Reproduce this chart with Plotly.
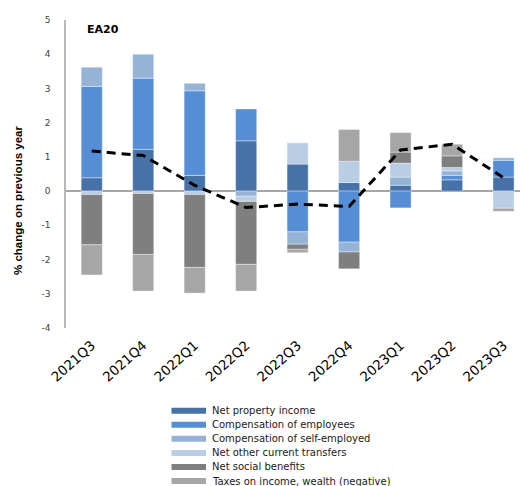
import plotly.graph_objects as go

quarters = ["2021Q3", "2021Q4", "2022Q1", "2022Q2", "2022Q3", "2022Q4", "2023Q1", "2023Q2", "2023Q3"]
net_property_income = [0.39, 1.22, 0.46, 1.47, 0.79, 0.25, 0.17, 0.33, 0.41]
compensation_employees = [2.67, 2.08, 2.47, 0.93, -1.19, -1.49, -0.49, 0.13, 0.49]
compensation_self_employed = [0.56, 0.70, 0.22, -0.15, -0.36, -0.29, 0.24, 0.13, 0.08]
net_other_transfers = [-0.10, -0.07, -0.10, -0.15, 0.62, 0.62, 0.41, 0.10, -0.50]
net_social_benefits = [-1.47, -1.78, -2.13, -1.84, -0.15, -0.49, 0.32, 0.34, 0.0]
taxes_income_wealth = [-0.88, -1.07, -0.75, -0.78, -0.10, 0.93, 0.57, 0.34, -0.09]
gross_disposable_income = [1.17, 1.04, 0.17, -0.48, -0.38, -0.45, 1.20, 1.37, 0.39]
y_tick_values = [-4, -3, -2, -1, 0, 1, 2, 3, 4, 5]
y_tick_labels = ["-4", "-3", "-2", "-1", "0", "1", "2", "3", "4", "5"]

series = [
    ("Net property income", net_property_income, "#4672A8"),
    ("Compensation of employees", compensation_employees, "#558ED5"),
    ("Compensation of self-employed", compensation_self_employed, "#95B3D7"),
    ("Net other current transfers", net_other_transfers, "#B9CDE5"),
    ("Net social benefits", net_social_benefits, "#7F7F7F"),
    ("Taxes on income, wealth (negative)", taxes_income_wealth, "#A6A6A6"),
]

fig = go.Figure()
for name, vals, color in series:
    fig.add_trace(go.Bar(
        x=quarters, y=vals, name=name, width=0.41,
        marker=dict(color=color, line=dict(color="rgba(255,255,255,0.6)", width=0.6)),
        showlegend=False,
    ))

fig.add_trace(go.Scatter(
    x=quarters, y=gross_disposable_income, mode="lines", name="Gross disposable income",
    line=dict(color="black", width=3, dash="9px,6px"), showlegend=False,
))

W, H = 526, 486
L, R, T, B = 66, 6, 20, 158
pw, ph = W - L - R, H - T - B

def px_x(px):
    return (px - L) / pw

def px_y(py):
    return (H - B - py) / ph

shapes = []
annotations = []
row0, step = 410.7, 14.06
for i, (name, vals, color) in enumerate(series):
    yc = row0 + i * step
    shapes.append(dict(type="rect", xref="paper", yref="paper",
                       x0=px_x(171.5), x1=px_x(206), y0=px_y(yc + 3), y1=px_y(yc - 3),
                       fillcolor=color, line=dict(width=0)))
    annotations.append(dict(xref="paper", yref="paper", x=px_x(210), y=px_y(yc),
                            text=name, showarrow=False, xanchor="left", yanchor="middle",
                            font=dict(family="DejaVu Sans", size=10, color="#1a1a1a")))

annotations.append(dict(xref="paper", yref="paper", x=px_x(85), y=px_y(29), text="<b>EA20</b>",
                        showarrow=False, xanchor="left", yanchor="middle",
                        font=dict(family="DejaVu Sans", size=11, color="black")))
annotations.append(dict(xref="paper", yref="paper", x=px_x(18), y=px_y(201),
                        text="<b>% change on previous year</b>", textangle=-90,
                        showarrow=False, xanchor="center", yanchor="middle",
                        font=dict(family="Liberation Sans", size=11.5, color="black")))

fig.update_layout(
    width=W, height=H,
    margin=dict(l=L, r=R, t=T, b=B, autoexpand=False),
    barmode="relative",
    bargap=0.59,
    plot_bgcolor="white", paper_bgcolor="white",
    shapes=shapes, annotations=annotations,
    xaxis=dict(range=[-0.5, 8.32], showline=False, ticks="", showgrid=False, zeroline=False,
               tickangle=-42, tickfont=dict(family="DejaVu Sans", size=13.5, color="black"),
               ticklabelstandoff=6, automargin=False),
    yaxis=dict(range=[-4, 5], tickvals=y_tick_values, ticktext=y_tick_labels,
               showgrid=False, showline=True, linecolor="#B8B8B8",
               linewidth=1.5, zeroline=True, zerolinecolor="#A6A6A6", zerolinewidth=1.5,
               ticks="", tickfont=dict(family="DejaVu Sans", size=9, color="#404040"),
               ticklabelstandoff=12, automargin=False),
)

fig.write_html("out.html", config={"displayModeBar": False},
               post_script="document.body.style.margin='0';document.body.style.padding='0';")
